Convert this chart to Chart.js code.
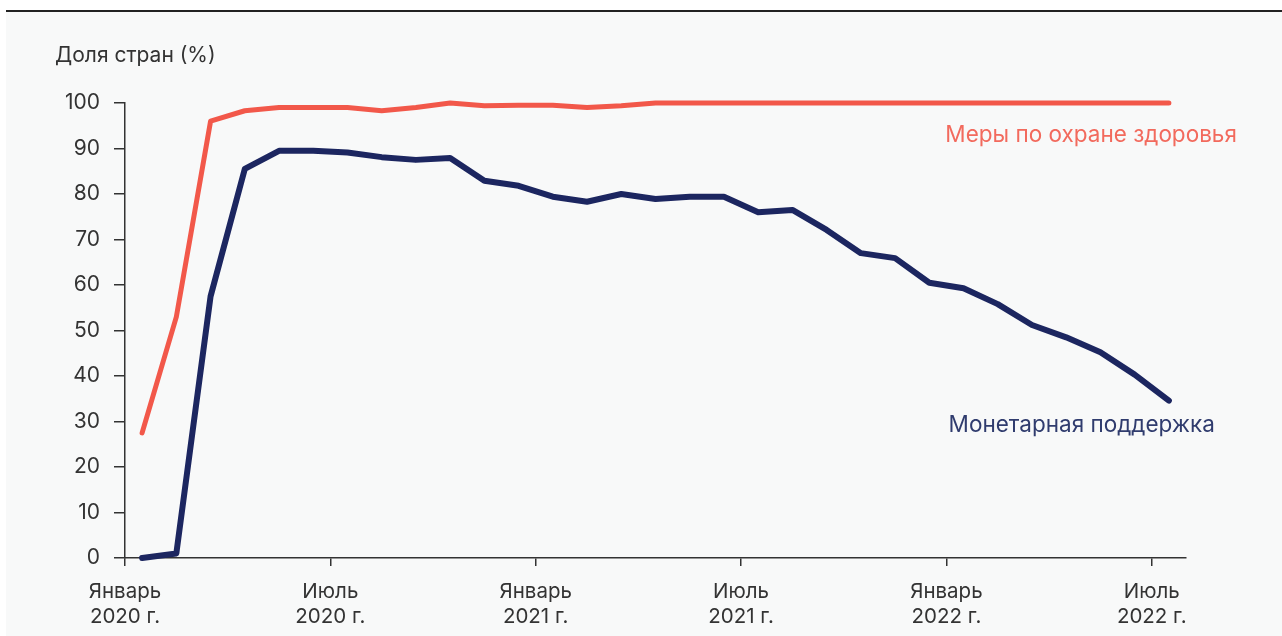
<!DOCTYPE html>
<html>
<head>
<meta charset="utf-8">
<script src="https://cdn.jsdelivr.net/npm/chart.js@4"></script>
<style>
  html, body { margin: 0; padding: 0; background: #ffffff; }
  #wrap {
    position: absolute; left: 6px; top: 10px;
    width: 1276px; height: 626px;
    border-top: 2px solid #222222;
    background: #f8f9f9;
  }
  #canvas { display: block; }
</style>
</head>
<body>
<div id="wrap"><canvas id="canvas" width="1276" height="624"></canvas></div>
<script>
  // monthly values, Jan 2020 .. Jul 2022
  const months = [
    "01.2020", "02.2020", "03.2020", "04.2020", "05.2020", "06.2020", "07.2020", "08.2020", "09.2020", "10.2020", "11.2020", "12.2020",
    "01.2021", "02.2021", "03.2021", "04.2021", "05.2021", "06.2021", "07.2021", "08.2021", "09.2021", "10.2021", "11.2021", "12.2021",
    "01.2022", "02.2022", "03.2022", "04.2022", "05.2022", "06.2022", "07.2022"
  ];
  const health = [27.5, 53, 96, 98.3, 99, 99, 99, 98.3, 99, 100, 99.4, 99.5, 99.5, 99, 99.4, 100,
    100, 100, 100, 100, 100, 100, 100, 100, 100, 100, 100, 100, 100, 100, 100];
  const monetary = [0, 1, 57.5, 85.5, 89.5, 89.5, 89.1, 88.1, 87.5, 87.9, 82.9, 81.8, 79.4, 78.3, 80.0,
    78.9, 79.4, 79.4, 76.0, 76.5, 72.1, 67.0, 65.9, 60.5, 59.3, 55.8, 51.2, 48.5, 45.2, 40.3, 34.6];
  const seriesNames = ["Меры по охране здоровья", "Монетарная поддержка"];
  const tickLabels = [
    ["Январь", "2020 г."], ["Июль", "2020 г."], ["Январь", "2021 г."],
    ["Июль", "2021 г."], ["Январь", "2022 г."], ["Июль", "2022 г."]
  ];
  const tickMonths = [0, 6, 12, 18, 24, 30];
  const yTitle = "Доля стран (%)";

  const colors = {
    red: "#f2584a",
    redText: "#f26a5d",
    navy: "#1c2660",
    navyText: "#303c6e",
    axis: "#333333"
  };
  const font = "Inter, 'Open Sans', sans-serif";

  // points sit in the middle of each month, ticks on month starts
  const toPoints = arr => arr.map((v, i) => ({ x: i + 0.5, y: v }));

  const labelsPlugin = {
    id: "labels",
    afterDatasetsDraw(chart) {
      const c = chart.ctx;
      const xs = chart.scales.x, ys = chart.scales.y;
      const last = months.length - 1;
      c.save();
      c.font = "21px " + font;
      c.textBaseline = "middle";

      c.textAlign = "left";
      c.fillStyle = colors.axis;
      c.fillText(yTitle, 49, 44);

      c.font = "22.5px " + font;
      c.textAlign = "right";
      c.fillStyle = colors.redText;
      c.fillText(seriesNames[0], xs.getPixelForValue(last + 0.5) + 68, ys.getPixelForValue(health[last]) + 32);
      c.fillStyle = colors.navyText;
      c.fillText(seriesNames[1], xs.getPixelForValue(last + 0.5) + 46, ys.getPixelForValue(monetary[last]) + 25);
      c.restore();
    }
  };

  const ctx = document.getElementById("canvas").getContext("2d");

  const options = {
    type: "line",
    data: {
      datasets: [
        {
          label: seriesNames[0],
          data: toPoints(health),
          borderColor: colors.red,
          borderWidth: 5,
          pointRadius: 0,
          borderCapStyle: "round",
          borderJoinStyle: "round",
          clip: false
        },
        {
          label: seriesNames[1],
          data: toPoints(monetary),
          borderColor: colors.navy,
          borderWidth: 6,
          pointRadius: 0,
          borderCapStyle: "round",
          borderJoinStyle: "round",
          clip: false
        }
      ]
    },
    options: {
      responsive: false,
      animation: false,
      layout: { padding: { top: 91, right: 96, left: 0, bottom: 0 } },
      scales: {
        x: {
          type: "linear",
          min: 0,
          max: months.length,
          afterBuildTicks: scale => { scale.ticks = tickMonths.map(v => ({ value: v })); },
          afterFit: scale => { scale.height = 78; },
          grid: { drawOnChartArea: false, drawTicks: true, tickLength: 8, color: colors.axis, lineWidth: 1.5 },
          border: { display: true, color: colors.axis, width: 1.5 },
          ticks: {
            color: colors.axis,
            font: { family: font, size: 20.5, lineHeight: 1.24 },
            padding: 13,
            maxRotation: 0,
            autoSkip: false,
            callback: v => tickLabels[tickMonths.indexOf(v)]
          }
        },
        y: {
          min: 0,
          max: 100,
          afterFit: scale => { scale.width = 119; },
          grid: { drawOnChartArea: false, drawTicks: true, tickLength: 11, color: colors.axis, lineWidth: 1.5 },
          border: { display: true, color: colors.axis, width: 1.5 },
          ticks: {
            stepSize: 10,
            color: colors.axis,
            font: { family: font, size: 21 },
            padding: 14
          }
        }
      },
      plugins: {
        legend: { display: false },
        tooltip: { enabled: false }
      }
    },
    plugins: [labelsPlugin]
  };

  window.myLine = new Chart(ctx, options);
</script>
</body>
</html>
